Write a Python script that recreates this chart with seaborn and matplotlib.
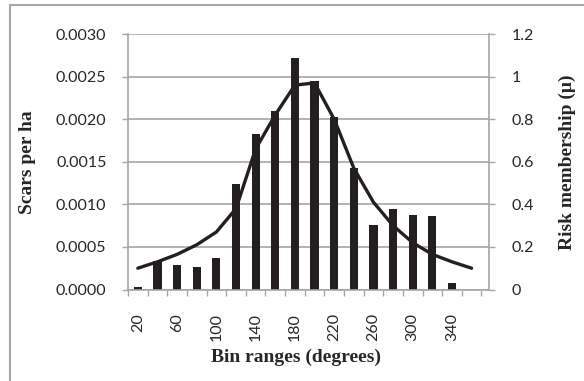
import numpy as np
import pandas as pd
import matplotlib
matplotlib.use("Agg")
import matplotlib.pyplot as plt
import seaborn as sns
from matplotlib.patches import Rectangle
from matplotlib.ticker import FixedLocator, FuncFormatter

# ---- data ----
bins = [20, 40, 60, 80, 100, 120, 140, 160, 180, 200, 220, 240, 260, 280, 300, 320, 340, 360]
scars_per_ha = [0.00003, 0.00033, 0.00029, 0.00026, 0.00037, 0.00124, 0.00183, 0.00210,
                0.00272, 0.00245, 0.00202, 0.00143, 0.00076, 0.00094, 0.00088, 0.00086, 0.00008]
risk_membership = [0.10, 0.13, 0.165, 0.21, 0.27, 0.38, 0.66, 0.82, 0.96, 0.97, 0.80,
                   0.57, 0.41, 0.30, 0.22, 0.165, 0.13, 0.10]
shown_bin_labels = ["20", "60", "100", "140", "180", "220", "260", "300", "340"]
left_ticks = [0.0, 0.0005, 0.0010, 0.0015, 0.0020, 0.0025, 0.0030]
right_ticks = [0, 0.2, 0.4, 0.6, 0.8, 1.0, 1.2]

GRAY = "#a6a6a6"
DARK = "#231f20"
TXT = "#262626"

bin_names = [str(b) for b in bins]
bar_df = pd.DataFrame({"bin": bin_names[:len(scars_per_ha)], "scars": scars_per_ha})
pos = np.arange(len(bins))
line_df = pd.DataFrame({"pos": pos, "risk": risk_membership})

fig = plt.figure(figsize=(5.84, 3.81), dpi=100)
ax1 = fig.add_axes([128 / 584, 1 - 289.5 / 381, (488.5 - 128) / 584, (289.5 - 34) / 381])
ax2 = ax1.twinx()

sns.barplot(data=bar_df, x="bin", y="scars", order=bin_names, color=DARK,
            saturation=1, width=0.42, errorbar=None, ax=ax1, zorder=2)
sns.lineplot(data=line_df, x="pos", y="risk", color=DARK, linewidth=2.4,
             ax=ax2, solid_capstyle="round", solid_joinstyle="round")

ax1.set_xlim(-0.5, 17.86)
ax1.set_ylim(0, 0.003)
ax2.set_ylim(0, 1.2)

tick_font = dict(family="Lato", size=11.5, color=TXT)

# x ticks: boundary ticks (minor) and labels at every other category
ax1.xaxis.set_major_locator(FixedLocator([bin_names.index(s) for s in shown_bin_labels]))
ax1.set_xticklabels(shown_bin_labels, rotation=90, ha="center", va="top", **tick_font)
ax1.set_xticks(np.arange(-0.5, 18, 1.0), minor=True)
ax1.tick_params(axis="x", which="major", length=0, pad=17)
ax1.tick_params(axis="x", which="minor", length=4.5, width=1.0, color=GRAY, direction="out")

ax1.set_yticks(left_ticks)
ax1.yaxis.set_major_formatter(FuncFormatter(lambda v, p: f"{v:.4f}"))
for t in ax1.get_yticklabels():
    t.set_fontfamily("Lato"); t.set_fontsize(11.5); t.set_color(TXT)
ax1.tick_params(axis="y", length=4.5, width=1.0, color=GRAY, pad=11)

ax2.set_yticks(right_ticks)
ax2.set_yticklabels(["0", "0.2", "0.4", "0.6", "0.8", "1", "1.2"], **tick_font)
ax2.tick_params(axis="y", length=4.5, width=1.0, color=GRAY, pad=12)

ax1.set_axisbelow(True)
ax1.yaxis.grid(True, color=GRAY, linewidth=1.2)
ax1.xaxis.grid(False)
ax1.set_facecolor("none")

for ax in (ax1, ax2):
    ax.set_xlabel("")
    ax.set_ylabel("")
    ax.spines["top"].set_visible(False)
ax1.spines["right"].set_visible(False)
ax2.spines["left"].set_visible(False)
ax2.spines["bottom"].set_visible(False)
for sp in (ax1.spines["left"], ax1.spines["bottom"], ax2.spines["right"]):
    sp.set_color(GRAY)
    sp.set_linewidth(1.2)

lab_font = dict(family="Liberation Serif", weight="bold", size=14, color=TXT)
fig.text(27 / 584, 1 - 162 / 381, "Scars per ha", rotation=90, ha="center", va="center", **lab_font)
fig.text(567 / 584, 1 - 162 / 381, "Risk membership (\u03bc)", rotation=90, ha="center", va="center", **lab_font)
fig.text(296 / 584, 1 - 357 / 381, "Bin ranges (degrees)", ha="center", va="center", **lab_font)

fig.patches.append(Rectangle((10 / 584, -0.05), 1.0, 1 - 5 / 381 + 0.05, transform=fig.transFigure,
                             fill=False, edgecolor=GRAY, linewidth=1.5))

fig.savefig("out.png", dpi=100)
